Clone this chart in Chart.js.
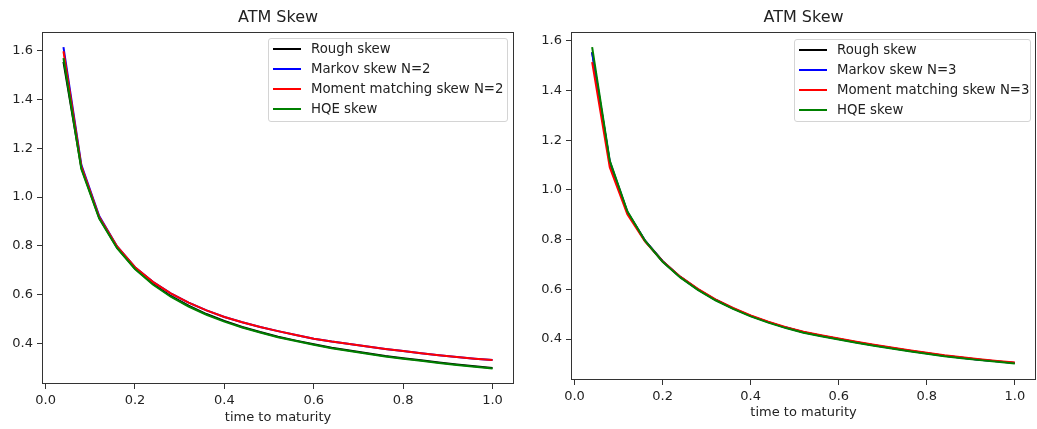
<!DOCTYPE html>
<html>
<head>
<meta charset="utf-8">
<script src="https://cdn.jsdelivr.net/npm/chart.js@4.4.1/dist/chart.umd.min.js"></script>
<style>
body { margin:0; background:#fff; width:1037px; height:429px; overflow:hidden; position:relative; font-family:'DejaVu Sans', sans-serif; }
canvas { position:absolute; top:0; }
#c1 { left:0; }
#c2 { left:520px; }
.legend { position:absolute; border:1px solid #d4d4d4; border-radius:3px; background:rgba(255,255,255,0.8); font-size:13.3px; color:#222; padding:0 0 2px 4px; box-sizing:border-box; }
.legend div { height:20px; line-height:20px; white-space:nowrap; }
.legend span { display:inline-block; width:28px; height:2px; vertical-align:middle; margin-right:10px; }
#lg1 { left:268px; top:38px; width:240px; height:84px; }
#lg2 { left:794px; top:39px; width:237px; height:83px; }
</style>
</head>
<body>
<canvas id="c1" width="520" height="429"></canvas>
<canvas id="c2" width="517" height="429"></canvas>
<div class="legend" id="lg1"></div>
<div class="legend" id="lg2"></div>
<script>
// maturities (x)
const times = [0.04, 0.08, 0.12, 0.16, 0.20, 0.24, 0.28, 0.32, 0.36, 0.40, 0.44, 0.48, 0.52,
               0.56, 0.60, 0.64, 0.68, 0.72, 0.76, 0.80, 0.84, 0.88, 0.92, 0.96, 1.00];
const xTicks = [0.0, 0.2, 0.4, 0.6, 0.8, 1.0];
const yTicks = [0.4, 0.6, 0.8, 1.0, 1.2, 1.4, 1.6];

// left panel, N=2
const namesLeft = ['Rough skew', 'Markov skew N=2', 'Moment matching skew N=2', 'HQE skew'];
const roughLeft = [1.555, 1.120, 0.915, 0.792, 0.707, 0.644, 0.594, 0.554, 0.520, 0.492, 0.467, 0.446, 0.427,
                   0.411, 0.396, 0.382, 0.370, 0.359, 0.348, 0.339, 0.330, 0.321, 0.313, 0.306, 0.299];
const markovLeft = [1.615, 1.132, 0.922, 0.797, 0.712, 0.652, 0.605, 0.567, 0.535, 0.508, 0.486, 0.467, 0.450,
                    0.434, 0.419, 0.407, 0.397, 0.387, 0.377, 0.368, 0.359, 0.351, 0.344, 0.337, 0.331];
const mmLeft = [1.598, 1.126, 0.918, 0.797, 0.712, 0.652, 0.605, 0.567, 0.535, 0.508, 0.486, 0.467, 0.450,
                0.434, 0.419, 0.407, 0.397, 0.387, 0.377, 0.368, 0.359, 0.351, 0.344, 0.337, 0.331];
const hqeLeft = [1.570, 1.115, 0.912, 0.790, 0.705, 0.641, 0.591, 0.551, 0.517, 0.489, 0.465, 0.444, 0.425,
                 0.409, 0.394, 0.380, 0.368, 0.357, 0.346, 0.337, 0.328, 0.319, 0.311, 0.304, 0.297];

// right panel, N=3
const namesRight = ['Rough skew', 'Markov skew N=3', 'Moment matching skew N=3', 'HQE skew'];
const roughRight = [1.555, 1.110, 0.910, 0.796, 0.713, 0.650, 0.600, 0.558, 0.523, 0.493, 0.468, 0.446, 0.427,
                    0.413, 0.400, 0.387, 0.375, 0.364, 0.353, 0.343, 0.333, 0.325, 0.317, 0.310, 0.303];
const markovRight = [1.553, 1.115, 0.911, 0.796, 0.713, 0.650, 0.600, 0.558, 0.523, 0.493, 0.468, 0.446, 0.427,
                     0.413, 0.400, 0.387, 0.375, 0.364, 0.353, 0.343, 0.333, 0.325, 0.317, 0.310, 0.303];
const mmRight = [1.515, 1.092, 0.902, 0.793, 0.713, 0.651, 0.602, 0.560, 0.525, 0.495, 0.470, 0.448, 0.429,
                 0.415, 0.402, 0.389, 0.377, 0.366, 0.355, 0.345, 0.335, 0.327, 0.319, 0.312, 0.305];
const hqeRight = [1.575, 1.118, 0.914, 0.796, 0.711, 0.648, 0.598, 0.556, 0.521, 0.491, 0.466, 0.444, 0.425,
                  0.411, 0.398, 0.385, 0.373, 0.362, 0.351, 0.341, 0.331, 0.323, 0.315, 0.308, 0.301];

const colors = ['#000000', '#0000ff', '#ff0000', '#008000'];

Chart.defaults.font.family = "'DejaVu Sans', sans-serif";
Chart.defaults.color = '#222';

const frame = {
    id: 'frame',
    afterDatasetsDraw(chart) {
        const a = chart.chartArea, c = chart.ctx;
        c.save();
        c.strokeStyle = '#333';
        c.lineWidth = 1;
        c.strokeRect(Math.round(a.left) + 0.5, Math.round(a.top) + 0.5,
                     Math.round(a.right - a.left) - 1, Math.round(a.bottom - a.top) - 1);
        c.restore();
    }
};

function makeChart(id, names, series, cfg) {
    const datasets = series.map((s, i) => ({
        label: names[i],
        data: times.map((t, k) => ({ x: t, y: s[k] })),
        borderColor: colors[i],
        borderWidth: 2,
        pointRadius: 0,
        tension: 0,
        fill: false,
        order: series.length - i
    }));
    return new Chart(document.getElementById(id), {
        type: 'line',
        data: { datasets: datasets },
        options: {
            responsive: false,
            animation: false,
            events: [],
            layout: { padding: { left: 0, right: cfg.padRight, top: 0, bottom: 0 } },
            plugins: {
                legend: { display: false },
                tooltip: { enabled: false },
                title: {
                    display: true, text: 'ATM Skew', fullSize: false,
                    font: { size: 16, weight: 'normal' }, color: '#222',
                    padding: { top: 8, bottom: 4.8 }
                }
            },
            scales: {
                x: {
                    type: 'linear', min: -0.008, max: 1.048,
                    afterBuildTicks: ax => { ax.ticks = xTicks.map(v => ({ value: v })); },
                    afterFit: ax => { ax.height = cfg.xHeight; },
                    ticks: { font: { size: 13 }, color: '#222', padding: 4, autoSkip: false, maxRotation: 0,
                             callback: v => v.toFixed(1) },
                    grid: { drawOnChartArea: false, drawTicks: true, tickLength: 5, color: '#333' },
                    border: { display: false },
                    title: { display: true, text: 'time to maturity', font: { size: 13 }, color: '#222',
                             padding: { top: 0, bottom: cfg.xTitlePad } }
                },
                y: {
                    type: 'linear', min: cfg.yMin, max: cfg.yMax,
                    afterBuildTicks: ax => { ax.ticks = yTicks.map(v => ({ value: v })); },
                    afterFit: ax => { ax.width = cfg.yWidth; },
                    ticks: { font: { size: 13 }, color: '#222', padding: 4, autoSkip: false,
                             callback: v => v.toFixed(1) },
                    grid: { drawOnChartArea: false, drawTicks: true, tickLength: 5, color: '#333' },
                    border: { display: false }
                }
            }
        },
        plugins: [frame]
    });
}

function makeLegend(id, names) {
    const box = document.getElementById(id);
    names.forEach((n, i) => {
        const row = document.createElement('div');
        const line = document.createElement('span');
        line.style.background = colors[i];
        row.appendChild(line);
        row.appendChild(document.createTextNode(n));
        box.appendChild(row);
    });
}

makeChart('c1', namesLeft, [roughLeft, markovLeft, mmLeft, hqeLeft],
          { yMin: 0.233, yMax: 1.677, yWidth: 42, xHeight: 45, padRight: 6, xTitlePad: 4 });
makeChart('c2', namesRight, [roughRight, markovRight, mmRight, hqeRight],
          { yMin: 0.235, yMax: 1.636, yWidth: 51, xHeight: 49, padRight: 1, xTitlePad: 9 });
makeLegend('lg1', namesLeft);
makeLegend('lg2', namesRight);
</script>
</body>
</html>
